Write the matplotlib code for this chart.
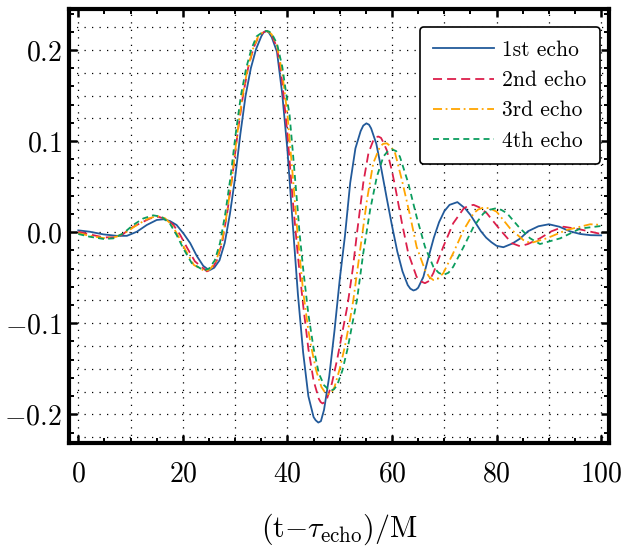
import numpy as np
import matplotlib
matplotlib.use("Agg")
import matplotlib.pyplot as plt
from matplotlib.ticker import MultipleLocator, FuncFormatter

# ---------------- data ----------------
echo1_t = [0, 2.2, 4.8, 7.3, 9.3, 11.2, 13.1, 15.0, 16.3, 17.5, 18.8, 20.1, 21.4, 22.65, 23.9,
           24.6, 25.2, 26.0, 27.0, 28.0, 29.0, 30.0, 31.0, 32.0, 33.0, 34.0, 35.0, 35.4, 35.9,
           36.4, 37.0, 38.0, 39.0, 40.0, 41.0, 42.0, 43.0, 44.0, 45.0, 45.4, 45.9, 46.4, 47.0,
           48.0, 49.0, 50.0, 51.0, 52.0, 53.0, 54.0, 54.5, 55.1, 55.6, 56.0, 57.0, 58.0, 59.0,
           60.0, 61.0, 62.0, 63.0, 63.5, 64.1, 64.6, 65.0, 66.0, 67.0, 68.0, 69.0, 70.0, 71.0,
           72.5, 74.0, 75.0, 76.0, 77.0, 78.0, 79.0, 80.0, 81.3, 83.0, 84.5, 86.0, 88.0, 90.0,
           92.0, 94.0, 96.0, 98.0, 100.0]
echo1_h = [0.002, 0.0005, -0.0024, -0.004, -0.004, 0.0005, 0.0079, 0.0134, 0.0142, 0.0123, 0.0079,
           -0.0013, -0.012, -0.026, -0.037, -0.040, -0.0415, -0.039, -0.031, -0.012, 0.020, 0.060,
           0.108, 0.150, 0.180, 0.201, 0.215, 0.219, 0.221, 0.2195, 0.214, 0.198, 0.152, 0.090,
           0.010, -0.068, -0.132, -0.180, -0.203, -0.2065, -0.209, -0.2075, -0.195, -0.158,
           -0.108, -0.052, -0.004, 0.054, 0.092, 0.111, 0.117, 0.1195, 0.118, 0.114, 0.097,
           0.068, 0.037, 0.007, -0.021, -0.043, -0.058, -0.062, -0.064, -0.063, -0.061, -0.049,
           -0.027, -0.006, 0.011, 0.023, 0.030, 0.033, 0.026, 0.019, 0.010, 0.001, -0.006,
           -0.011, -0.015, -0.0165, -0.0125, -0.007, 0.001, 0.0065, 0.0087, 0.006, 0.001,
           -0.002, -0.0033, -0.0035]

echo2_t = [0, 2.2, 4.8, 7.3, 8.6, 9.9, 11.8, 13.7, 15.3, 16.9, 18.2, 19.5, 20.7, 22.3, 24.6,
           25.5, 26.5, 27.5, 28.5, 29.5, 30.5, 31.5, 32.5, 33.5, 34.5, 35.3, 36.0, 36.5, 37.0,
           38.0, 39.0, 40.0, 41.0, 42.0, 43.0, 44.0, 45.0, 46.0, 46.35, 46.7, 47.1, 47.5, 48.5,
           49.5, 50.5, 51.5, 52.5, 53.3, 54.5, 55.5, 56.5, 57.0, 57.4, 57.9, 58.3, 59.0, 60.0,
           60.6, 61.9, 63.1, 64.7, 65.5, 66.3, 67.1, 67.9, 69.8, 71.7, 73.7, 74.6, 75.6, 76.8,
           78.1, 80.7, 82.9, 84.5, 86.0, 88.3, 90.5, 92.8, 96.0, 100.0]
echo2_h = [0.0005, -0.0024, -0.0057, -0.0057, -0.002, 0.004, 0.0097, 0.015, 0.017, 0.014, 0.0079,
           -0.0031, -0.016, -0.032, -0.043, -0.041, -0.031, -0.012, 0.022, 0.063, 0.110, 0.150,
           0.181, 0.202, 0.215, 0.219, 0.221, 0.2195, 0.216, 0.203, 0.165, 0.108, 0.036, -0.026,
           -0.080, -0.128, -0.163, -0.183, -0.1865, -0.188, -0.1868, -0.184, -0.166, -0.140,
           -0.110, -0.080, -0.040, -0.001, 0.054, 0.087, 0.102, 0.1045, 0.105, 0.1035, 0.099,
           0.090, 0.067, 0.050, 0.010, -0.023, -0.049, -0.054, -0.056, -0.0535, -0.045, -0.016,
           0.0098, 0.026, 0.029, 0.030, 0.027, 0.021, 0.0024, -0.012, -0.0155, -0.013, -0.0067,
           0.001, 0.006, 0.003, -0.002]

echo3_t = [0, 2.2, 4.8, 7.3, 9.3, 11.2, 13.4, 15.1, 16.6, 17.9, 19.2, 20.5, 22.1, 24.3,
           25.3, 26.4, 27.4, 28.4, 29.4, 30.4, 31.4, 32.4, 33.4, 34.4, 35.2, 35.9, 36.5, 37.0,
           38.0, 39.0, 40.0, 41.0, 41.9, 43.0, 44.0, 44.6, 45.5, 46.5, 47.2, 47.8, 48.4, 49.0,
           50.0, 51.0, 52.0, 52.6, 53.9, 55.2, 56.4, 57.7, 58.3, 59.0, 59.8, 60.6, 61.9, 63.5,
           64.7, 66.3, 67.1, 67.9, 68.8, 69.8, 71.7, 73.7, 75.6, 76.5, 77.5, 78.7, 80.0, 82.6,
           85.1, 86.5, 89.6, 93.4, 97.9, 100.0]
echo3_h = [-0.001, -0.004, -0.0065, -0.005, 0.0005, 0.0079, 0.015, 0.0178, 0.0152, 0.0079, -0.005,
           -0.0196, -0.036, -0.043, -0.040, -0.031, -0.012, 0.020, 0.060, 0.108, 0.150, 0.180,
           0.201, 0.215, 0.219, 0.221, 0.2198, 0.217, 0.205, 0.175, 0.129, 0.063, 0.0, -0.065,
           -0.108, -0.1275, -0.152, -0.170, -0.176, -0.178, -0.1765, -0.170, -0.150, -0.125,
           -0.095, -0.0745, -0.0195, 0.035, 0.0756, 0.094, 0.097, 0.0976, 0.094, 0.0866, 0.057,
           0.017, -0.016, -0.0415, -0.049, -0.0525, -0.051, -0.045, -0.023, 0.0024, 0.0207,
           0.025, 0.027, 0.0262, 0.0225, 0.004, -0.0086, -0.012, -0.0067, 0.0024, 0.0087, 0.008]

echo4_t = [0, 2.2, 4.8, 6.7, 8.6, 10.5, 12.4, 14.3, 15.9, 17.5, 18.8, 20.1, 21.7, 24.0,
           25.0, 26.1, 27.1, 28.1, 29.1, 30.1, 31.1, 32.1, 33.1, 34.1, 35.1, 36.0, 36.5, 37.0,
           38.0, 39.0, 40.0, 40.4, 41.0, 42.0, 42.3, 43.0, 44.0, 45.0, 46.0, 47.0, 47.7, 48.3,
           48.9, 49.5, 50.5, 51.5, 52.5, 53.3, 54.5, 55.8, 57.1, 58.35, 59.2, 60.0, 60.8, 61.5,
           63.1, 64.7, 66.3, 67.9, 68.9, 69.8, 70.8, 71.7, 73.7, 75.6, 77.5, 78.6, 79.7, 80.9,
           82.0, 84.2, 86.4, 88.3, 92.2, 96.0, 100.0]
echo4_h = [-0.002, -0.005, -0.0074, -0.0068, -0.0013, 0.0079, 0.015, 0.0185, 0.017, 0.0097,
           -0.0031, -0.018, -0.034, -0.042, -0.040, -0.031, -0.012, 0.020, 0.060, 0.108, 0.150,
           0.180, 0.201, 0.215, 0.219, 0.221, 0.2202, 0.218, 0.207, 0.182, 0.143, 0.129, 0.090,
           0.022, 0.0, -0.040, -0.090, -0.1275, -0.155, -0.168, -0.172, -0.174, -0.1725, -0.168,
           -0.152, -0.128, -0.098, -0.0745, -0.023, 0.024, 0.061, 0.083, 0.089, 0.091, 0.089,
           0.083, 0.054, 0.017, -0.016, -0.038, -0.0445, -0.047, -0.0445, -0.038, -0.016, 0.006,
           0.0207, 0.0245, 0.026, 0.0245, 0.0207, 0.006, -0.0067, -0.013, -0.0067, 0.004, 0.0068]

labels = ["1st echo", "2nd echo", "3rd echo", "4th echo"]
x_label = r"$(\mathrm{t}{-}\tau_{\mathrm{echo}})/\mathrm{M}$"

# ---------------- style ----------------
plt.rcParams["mathtext.fontset"] = "cm"
plt.rcParams["font.family"] = ["cmr10", "DejaVu Serif"]
plt.rcParams["axes.unicode_minus"] = True

colors = ["#225a9a", "#dc1f4b", "#ffa500", "#0b9d5e"]
styles = ["-", (0, (5, 2.8)), (0, (5, 2, 1, 2)), (0, (3.3, 2.3))]

fig = plt.figure(figsize=(6.34, 5.48), dpi=100)
ax = fig.add_axes([0.1088, 0.1907, 0.9606 - 0.1088, 0.9827 - 0.1907])

series = [(echo1_t, echo1_h), (echo2_t, echo2_h), (echo3_t, echo3_h), (echo4_t, echo4_h)]
for (t, h), c, ls, lab in zip(series, colors, styles, labels):
    ax.plot(t, h, color=c, linestyle=ls, lw=1.3, label=lab, zorder=3,
            solid_joinstyle="round", dash_joinstyle="round")

ax.set_xlim(-1.78, 101.5)
ax.set_ylim(-0.232, 0.2445)

# dotted grid
for v in np.arange(0, 101, 10):
    ax.axvline(v, color="black", lw=0.9, linestyle=(0, (1, 5)), zorder=1)
for v in np.arange(-0.225, 0.226, 0.025):
    ax.axhline(v, color="black", lw=0.9, linestyle=(0, (1, 5)), zorder=1)

ax.xaxis.set_major_locator(MultipleLocator(20))
ax.xaxis.set_minor_locator(MultipleLocator(5))
ax.yaxis.set_major_locator(MultipleLocator(0.1))
ax.yaxis.set_minor_locator(MultipleLocator(0.02))
ax.xaxis.set_major_formatter(FuncFormatter(lambda v, p: r"$%d$" % round(v)))
ax.yaxis.set_major_formatter(FuncFormatter(lambda v, p: r"$%.1f$" % (0.0 if abs(v) < 1e-9 else v)))

ax.tick_params(which="both", direction="in", top=True, right=True, color="black")
ax.tick_params(which="major", length=6, width=1.8, labelsize=20)
ax.tick_params(axis="x", which="major", pad=13)
ax.tick_params(axis="y", which="major", pad=5)
ax.tick_params(which="minor", length=3.5, width=1.4)

for sp in ax.spines.values():
    sp.set_linewidth(3.0)
    sp.set_color("black")

ax.set_xlabel(x_label, fontsize=21.5, labelpad=17)

leg = ax.legend(loc="upper right", bbox_to_anchor=(0.983, 0.9597), borderaxespad=0,
                fontsize=15.5, handlelength=2.8, handletextpad=0.4, labelspacing=0.5,
                borderpad=0.62, fancybox=True, framealpha=1, edgecolor="black")
leg.get_frame().set_linewidth(1.2)

fig.savefig("out.png", dpi=100)
